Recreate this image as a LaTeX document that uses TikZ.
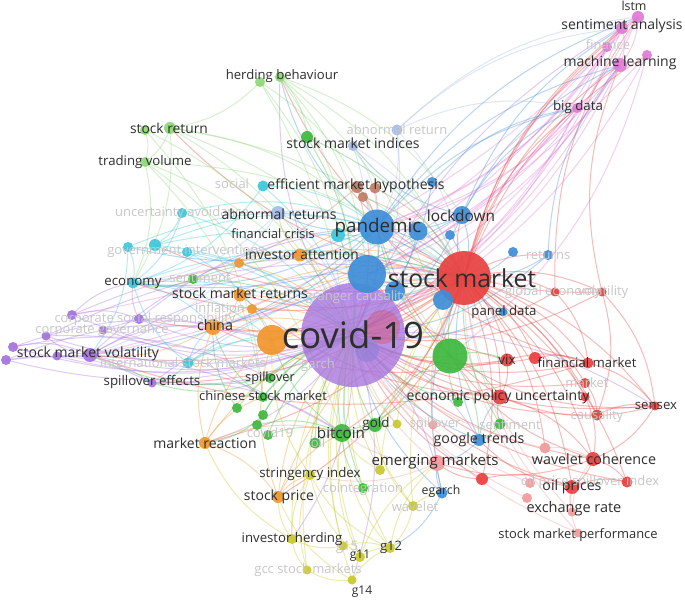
\documentclass[tikz,border=0pt]{standalone}
\usepackage{fontspec}
\setmainfont{Open Sans}
\usetikzlibrary{backgrounds}
\definecolor{cR}{HTML}{E8413F}
\definecolor{cG}{HTML}{3EB83E}
\definecolor{cB}{HTML}{3E8ED8}
\definecolor{cY}{HTML}{C9C92C}
\definecolor{cP}{HTML}{A673DE}
\definecolor{cPd}{HTML}{8E7FD8}
\definecolor{cC}{HTML}{3CC7DB}
\definecolor{cO}{HTML}{F2962C}
\definecolor{cBr}{HTML}{BE7D66}
\definecolor{cPk}{HTML}{E07AD6}
\definecolor{cLG}{HTML}{8ED878}
\definecolor{cLB}{HTML}{A6BBEA}
\definecolor{cLR}{HTML}{F29B9B}
\newcommand\fsz[1]{\fontsize{#1}{#1}\selectfont}
\newcommand\vn[5]{\node[vtx,fill=#5,minimum size=#4pt] (#1) at (#2,#3) {};}
\tikzset{
  vtx/.style={circle,inner sep=0pt,outer sep=0pt,draw=none,fill opacity=0.92},
  lb/.style={inner sep=0pt,text=black!82,font=\fsz{13.5}},
  fl/.style={inner sep=0pt,text=black!22,font=\fsz{13}},
  ed/.style={draw opacity=0.36,line width=1pt},
}
\begin{document}
\begin{tikzpicture}[x=1pt,y=-1pt]
\useasboundingbox (0,0) rectangle (685,601);
% ---------- vertices ----------
\node[vtx,fill=cP,fill opacity=0.78,minimum size=104pt] (cov) at (353,335) {};
\vn{p1}{72}{315}{10}{cP}\vn{p2}{139}{319}{10}{cP}\vn{p3}{103}{330}{9}{cP}
\vn{p4}{46}{336}{9}{cP}\vn{p5}{13}{347}{10}{cP}\vn{p6}{6}{360}{10}{cP}
\vn{smv}{90}{355}{14}{cP}\vn{p8}{57}{356}{9}{cP}\vn{spe}{152}{383}{9}{cP}
% red
\vn{sm}{464}{278}{54}{cR}
\node[vtx,fill=cR,fill opacity=0.3,minimum size=34pt] (r5) at (383,327) {};
\node[vtx,fill=cPd,fill opacity=0.6,minimum size=24pt] (pc) at (367,350) {};
\vn{ge1}{555}{292}{9}{cR}\vn{ge2}{602}{292}{9}{cR}\vn{vix}{507}{360}{13}{cR}
\vn{r2}{535}{358}{12}{cR}\vn{fm}{588}{363}{11}{cR}\vn{mk}{585}{383}{10}{cR}
\vn{epu}{500}{397}{15}{cR}\vn{r7}{585}{397}{9}{cR}\vn{cau}{597}{415}{11}{cR}
\vn{sx}{655}{406}{9}{cR}\vn{wc}{593}{459}{14}{cR}\vn{r3}{482}{479}{12}{cR}
\vn{op}{572}{487}{14}{cR}\vn{spi}{627}{482}{11}{cR}
% light red
\vn{em}{437}{463}{16}{cLR}\vn{r4}{545}{448}{11}{cLR}\vn{opr}{530}{483}{10}{cLR}
\vn{er1}{527}{498}{10}{cLR}\vn{er}{572}{512}{9}{cLR}\vn{smp}{578}{533}{9}{cLR}
\vn{r6}{433}{425}{9}{cLR}
% blue
\vn{pan}{377}{227}{35}{cB}\vn{bb}{367}{274}{38}{cB}\vn{bl1}{418}{231}{19}{cB}
\vn{bl2}{450}{235}{10}{cB}\vn{bl3}{432}{182}{10}{cB}\vn{lock}{462}{215}{18}{cB}
\vn{bl4}{513}{252}{10}{cB}\vn{ret}{548}{255}{10}{cB}\vn{bl5}{395}{291}{20}{cB}
\vn{bl6}{443}{300}{20}{cB}\vn{pd}{503}{312}{9}{cB}\vn{gt}{479}{440}{12}{cB}
\vn{eg}{442}{493}{11}{cB}
% light blue
\vn{ar}{397}{130}{11}{cLB}\vn{smi}{353}{146}{10}{cLB}\vn{abr}{278}{213}{14}{cLB}
% brown
\vn{b1}{357}{187}{12}{cBr}\vn{b2}{375}{188}{11}{cBr}\vn{b3}{363}{197}{10}{cBr}
% cyan
\vn{soc}{263}{186}{11}{cC}\vn{ua}{182}{213}{10}{cC}\vn{gi1}{128}{247}{10}{cC}
\vn{gi2}{155}{245}{12}{cC}\vn{gi3}{187}{252}{10}{cC}\vn{eco}{133}{283}{11}{cC}
\vn{ism}{188}{363}{11}{cC}\vn{fc}{338}{235}{14}{cC}
% light green
\vn{hb1}{260}{82}{10}{cLG}\vn{hb}{280}{77}{10}{cLG}\vn{sr1}{145}{130}{10}{cLG}
\vn{sr}{170}{128}{12}{cLG}\vn{tv}{145}{162}{10}{cLG}
% green
\vn{smig}{307}{137}{12}{cG}\vn{gbig}{450}{356}{35}{cG}\vn{sent}{193}{279}{10}{cG}
\vn{spl}{270}{378}{10}{cG}\vn{csm}{263}{397}{10}{cG}\vn{g1}{237}{408}{10}{cG}
\vn{g2}{263}{415}{10}{cG}\vn{g3}{257}{425}{10}{cG}\vn{c19}{268}{435}{10}{cG}
\vn{oil}{315}{443}{11}{cG}\vn{btc}{342}{433}{18}{cG}\vn{gold}{375}{425}{14}{cG}
\vn{g4}{458}{402}{10}{cG}\vn{g5}{500}{424}{11}{cG}\vn{coi}{363}{488}{10}{cG}
% yellow
\vn{y1}{397}{424}{9}{cY}\vn{sti}{310}{475}{10}{cY}\vn{y2}{380}{470}{10}{cY}
\vn{wav}{413}{506}{10}{cY}\vn{ih}{292}{539}{10}{cY}\vn{g15}{343}{546}{9}{cY}
\vn{g11}{360}{557}{10}{cY}\vn{g12}{390}{548}{10}{cY}\vn{gcc}{307}{570}{9}{cY}
\vn{g14}{352}{580}{9}{cY}
% orange
\vn{ob}{272}{340}{30}{cO}\vn{china}{213}{327}{16}{cO}\vn{ia}{300}{255}{13}{cO}
\vn{o2}{239}{263}{10}{cO}\vn{smr}{240}{295}{13}{cO}\vn{o3}{252}{309}{10}{cO}
\vn{mr}{205}{443}{12}{cO}\vn{sp}{278}{497}{12}{cO}
% pink
\vn{lstm}{638}{17}{12}{cPk}\vn{sa}{622}{28}{12}{cPk}\vn{fin}{607}{47}{10}{cPk}
\vn{ml}{620}{65}{14}{cPk}\vn{ml2}{647}{55}{10}{cPk}\vn{bd}{577}{108}{10}{cPk}
% ---------- edges ----------
\begin{scope}[on background layer]
\fill[white] (0,0) rectangle (685,601);
\foreach \a/\b in {lstm/cov,sa/cov,ml/cov,bd/cov,fin/cov,ml2/cov,sa/pan,ml/pan,bd/pan,fin/pan,lstm/bb,ml/bb,sa/smv,ml/ob,bd/china,ml2/gbig,lstm/ml,sa/ml,bd/ml,fin/sa,lstm/p1,ml2/smv,sa/china,fin/bb}
  \draw[ed,cPk] (\a.center) to[bend left=18] (\b.center);
\foreach \a/\b in {sm/lstm,sm/sa,sm/ml,sm/fin,sm/bd,sm/ml2,sm/ge1,sm/ge2,sm/vix,sm/r2,sm/fm,sm/mk,sm/epu,sm/r7,sm/cau,sm/sx,sm/wc,sm/op,sm/spi,sm/r3,sm/r4,sm/cov,sm/pan,sm/lock,sm/ret,sm/smv,sm/eco,sm/hb,sm/sr,sm/china,sm/gi2,sm/p2,sm/spe,sm/mr,sm/sp,sm/ia,sm/smr,sm/btc,sm/gold,sm/ob,vix/epu,vix/fm,fm/sx,epu/wc,wc/op,op/spi,cau/sx,ge2/sx,ge1/fm,wc/spi,r3/op,r2/fm,mk/cau,r7/wc,sx/wc,ge2/cau,epu/cov,vix/cov,fm/cov,wc/cov,op/cov,sx/cov,cau/cov,ge1/cov,ge2/cov,spi/cov,mk/cov,r3/cov,r2/cov,sx/gbig,wc/gbig,epu/pan,fm/pan,vix/bb,wc/em,op/gt,r3/em,epu/smr,vix/china,fm/smv,ge2/pan,sx/epu,ge1/lstm,ge2/ml}
  \draw[ed,cR] (\a.center) to[bend left=18] (\b.center);
\foreach \a/\b in {em/cov,em/sm,er/sm,smp/sm,opr/sm,er1/cov,r6/cov,r4/wc,er/op,smp/op,smp/cov,opr/cov,r4/cov,er/wc,em/btc,em/sti,r6/sm}
  \draw[ed,cLR] (\a.center) to[bend left=18] (\b.center);
\foreach \a/\b in {cov/p1,cov/p2,cov/p3,cov/p4,cov/p5,cov/p6,cov/smv,cov/p8,cov/spe,smv/sm,p1/sm,p2/pan,p4/sm,smv/china,spe/sm,p5/ob,p6/ob,p1/eco,p3/china,smv/p4,p1/p2,p5/smv,p6/spe,p8/spe,cov/gt,cov/sx,cov/eg,cov/lstm,cov/hb,smv/pan,spe/btc,p2/eco,cov/mr,cov/ih,cov/g14,p4/csm,p5/spl,p6/btc}
  \draw[ed,cP] (\a.center) to[bend left=18] (\b.center);
\foreach \a/\b in {soc/cov,ua/cov,gi1/cov,gi2/cov,gi3/cov,eco/cov,ism/cov,fc/cov,ua/pan,gi2/sm,eco/sm,ism/sm,ism/eco,gi1/eco,ua/eco,eco/china,gi2/pan,ism/spe,soc/pan,gi3/ob,ism/ob,fc/pan,fc/sm,ua/gi2,gi1/smv,eco/ob,ism/china,soc/eco,gi1/pan}
  \draw[ed,cC] (\a.center) to[bend left=18] (\b.center);
\foreach \a/\b in {hb/cov,hb1/cov,sr/cov,sr1/cov,tv/cov,hb/sm,sr/sm,tv/sm,hb/gbig,sr/gbig,tv/btc,hb1/pan,sr/tv,hb/smig,tv/eco,hb1/sr,sr1/csm,hb1/btc,hb/bb,sr1/tv,sr/eco,tv/csm,hb/lock,sr/pan}
  \draw[ed,cLG] (\a.center) to[bend left=18] (\b.center);
\foreach \a/\b in {smig/cov,smig/sm,gbig/cov,gbig/sm,gbig/btc,gbig/epu,btc/cov,btc/ob,gold/cov,gold/btc,csm/cov,spl/cov,g1/cov,g2/cov,g3/cov,c19/cov,oil/cov,coi/cov,g4/cov,g5/sm,sent/cov,sent/sm,csm/china,spl/spe,g5/gt,coi/btc,g2/mr,csm/sm,g1/china,g3/btc,oil/btc,c19/btc,g4/gbig,g5/epu,gold/gbig,sent/eco,spl/smv,gbig/pan,gbig/gt,gbig/vix}
  \draw[ed,cG] (\a.center) to[bend left=18] (\b.center);
\foreach \a/\b in {sti/cov,y1/cov,y2/cov,wav/cov,ih/cov,g15/cov,g11/cov,g12/cov,gcc/cov,g14/cov,ih/sp,g11/g12,g14/g12,gcc/ih,g11/sti,g12/sti,wav/g12,y2/btc,ih/sti,g14/sp,g15/ih,wav/eg,g11/em,gcc/sti,g12/btc,y1/sm,wav/sm,y2/sm,sti/ob,g14/gcc,g15/g12,ih/mr,g12/em,wav/gold,g11/btc,y1/gold}
  \draw[ed,cY] (\a.center) to[bend left=18] (\b.center);
\foreach \a/\b in {ob/cov,ob/sm,china/cov,china/sm,ia/cov,ia/sm,ia/pan,o2/cov,smr/cov,smr/sm,o3/cov,mr/cov,mr/ob,sp/cov,sp/ob,mr/sp,mr/china,sp/sm,china/ob,ia/abr,o2/ia,sp/sti,mr/csm,smr/china,o3/ob,sp/btc,mr/btc,china/smv,ob/gbig}
  \draw[ed,cO] (\a.center) to[bend left=18] (\b.center);
\foreach \a/\b in {pan/cov,pan/sm,lock/cov,lock/sm,lock/pan,lock/sa,lock/ml,pan/ml,pan/bd,pan/lstm,bl1/cov,bl2/sm,bl3/cov,bl4/sm,ret/sm,ret/cov,bb/cov,bb/sm,bl5/cov,bl6/sm,pd/sm,gt/sm,gt/cov,eg/sm,eg/cov,eg/em,gt/em,pan/eco,pan/abr,pan/smv,lock/smi,pan/china,bl3/bd,lock/bd,ret/ml,pan/hb,bl1/sm,gt/epu,eg/g12,pd/cov,pan/gi1,lock/eco}
  \draw[ed,cB] (\a.center) to[bend left=18] (\b.center);
\foreach \a/\b in {ar/cov,ar/sm,ar/pan,smi/cov,smi/sm,abr/cov,abr/pan,abr/sm,ar/bd,ar/lstm,ar/sa,abr/eco,smi/pan,abr/smv}
  \draw[ed,cLB] (\a.center) to[bend left=18] (\b.center);
\foreach \a/\b in {b1/cov,b2/sm,b3/pan,b1/pan,b2/cov,b3/sm,b1/eco}
  \draw[ed,cBr] (\a.center) to[bend left=18] (\b.center);
\end{scope}
% ---------- faint labels ----------
\node[fl] (f1) at (608,45) {finance};
\node[fl] (f2) at (397,130) {abnormal return};
\node[fl] (f3) at (232,184) {social};
\node[fl] (f4) at (182,213) {uncertainty avoidance};
\node[fl] (f5) at (186,251) {government interventions};
\node[fl] (f6) at (200,278) {sentiment};
\node[fl] (f7) at (220,308) {inflation};
\node[fl] (f8) at (145,319) {corporate social responsibility};
\node[fl] (f9) at (102,331) {corporate governance};
\node[fl] (f10) at (183,363) {international stock markets};
\node[fl] (f11) at (318,365) {garch};
\node[fl] (f12) at (357,297) {granger causality};
\node[fl] (f13) at (548,255) {returns};
\node[fl] (f14) at (553,292) {global economy};
\node[fl] (f15) at (603,292) {volatility};
\node[fl] (f16) at (587,383) {market};
\node[fl] (f17) at (597,416) {causality};
\node[fl] (f18) at (270,433) {covid19};
\node[fl] (f19) at (318,443) {oil};
\node[fl] (f20) at (435,424) {spillover};
\node[fl] (f21) at (510,425) {sentiment};
\node[fl] (f22) at (363,489) {cointegration};
\node[fl] (f23) at (415,507) {wavelet};
\node[fl] (f24) at (347,547) {g15};
\node[fl] (f25) at (308,570) {gcc stock markets};
\node[fl] (f26) at (590,482) {oil price spillover index};
% ---------- labels ----------
\node[lb,font=\fsz{12.4}] (t1) at (634,6) {lstm};
\node[lb,font=\fsz{14}] (t2) at (622,26) {sentiment analysis};
\node[lb,font=\fsz{14}] (t3) at (620,63) {machine learning};
\node[lb,font=\fsz{13.3}] (t4) at (578,107) {big data};
\node[lb,font=\fsz{13.1}] (t5) at (282,76) {herding behaviour};
\node[lb,font=\fsz{13.8}] (t6) at (169,128) {stock return};
\node[lb,font=\fsz{13.2}] (t7) at (145,162) {trading volume};
\node[lb,font=\fsz{14}] (t8) at (353,143) {stock market indices};
\node[lb,font=\fsz{14}] (t9) at (356,186) {efficient market hypothesis};
\node[lb,font=\fsz{14}] (t10) at (279,214) {abnormal returns};
\node[lb,font=\fsz{12.8}] (t11) at (273,234) {financial crisis};
\node[lb,font=\fsz{13.7}] (t12) at (302,255) {investor attention};
\node[lb,font=\fsz{18.8}] (t13) at (378,228) {pandemic};
\node[lb,font=\fsz{15.4}] (t14) at (461,216) {lockdown};
\node[lb,font=\fsz{13.3}] (t15) at (133,283) {economy};
\node[lb,font=\fsz{14}] (t16) at (240,293) {stock market returns};
\node[lb,font=\fsz{14.3}] (t17) at (215,325) {china};
\node[lb,font=\fsz{36.5}] (t18) at (353,335) {covid-19};
\node[lb,font=\fsz{24.7}] (t19) at (462,278) {stock market};
\node[lb,font=\fsz{14}] (t20) at (88,354) {stock market volatility};
\node[lb,font=\fsz{13.3}] (t21) at (152,382) {spillover effects};
\node[lb,font=\fsz{12.7}] (t22) at (270,378) {spillover};
\node[lb,font=\fsz{13}] (t23) at (263,396) {chinese stock market};
\node[lb,font=\fsz{13.2}] (t24) at (504,312) {panel data};
\node[lb,font=\fsz{13.5}] (t25) at (507,360) {vix};
\node[lb,font=\fsz{13.2}] (t26) at (587,363) {financial market};
\node[lb,font=\fsz{14}] (t27) at (498,397) {economic policy uncertainty};
\node[lb,font=\fsz{13.2}] (t28) at (656,406) {sensex};
\node[lb,font=\fsz{14}] (t29) at (205,443) {market reaction};
\node[lb,font=\fsz{15.2}] (t30) at (341,433) {bitcoin};
\node[lb,font=\fsz{13.4}] (t31) at (376,424) {gold};
\node[lb,font=\fsz{14.2}] (t32) at (479,440) {google trends};
\node[lb,font=\fsz{15}] (t33) at (435,462) {emerging markets};
\node[lb,font=\fsz{13.3}] (t34) at (310,474) {stringency index};
\node[lb,font=\fsz{14}] (t35) at (279,497) {stock price};
\node[lb,font=\fsz{12.3}] (t36) at (441,491) {egarch};
\node[lb,font=\fsz{14.3}] (t37) at (594,459) {wavelet coherence};
\node[lb,font=\fsz{14.2}] (t38) at (572,487) {oil prices};
\node[lb,font=\fsz{14.5}] (t39) at (574,509) {exchange rate};
\node[lb,font=\fsz{12.9}] (t40) at (578,535) {stock market performance};
\node[lb,font=\fsz{13.2}] (t41) at (292,539) {investor herding};
\node[lb,font=\fsz{12}] (t42) at (360,556) {g11};
\node[lb,font=\fsz{13}] (t43) at (391,547) {g12};
\node[lb,font=\fsz{12}] (t44) at (362,592) {g14};
\end{tikzpicture}
\end{document}
